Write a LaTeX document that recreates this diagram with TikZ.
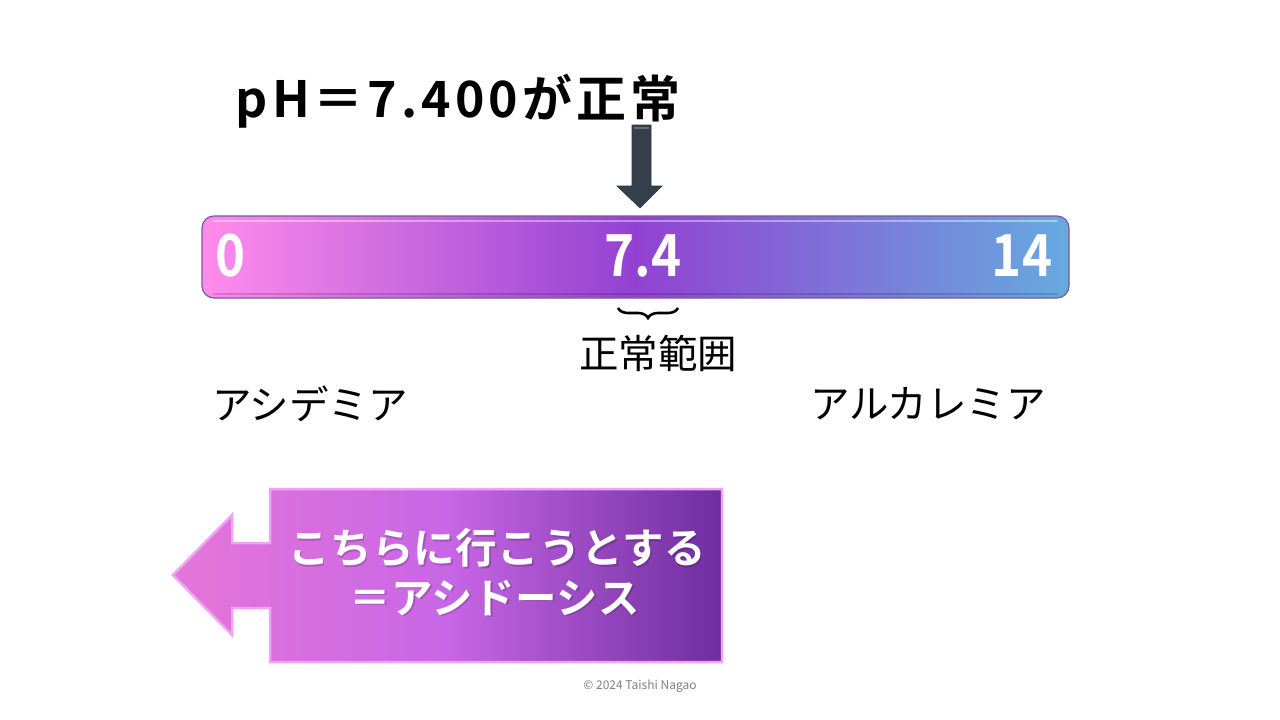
\documentclass[tikz,border=0pt]{standalone}
\usepackage{fontspec}
\newfontfamily\jp{Noto Sans CJK JP}[BoldFont={Noto Sans CJK JP Bold}]
\usetikzlibrary{decorations.pathreplacing,shadows}
\definecolor{barpink}{HTML}{FF8CEB}
\definecolor{barmid}{HTML}{9242D2}
\definecolor{barblue}{HTML}{66AADF}
\definecolor{barline}{HTML}{7A5A9A}
\definecolor{arrowdark}{HTML}{36404D}
\definecolor{bigL}{HTML}{E676D8}
\definecolor{bigM}{HTML}{C766E6}
\definecolor{bigR}{HTML}{6E2E9E}
\definecolor{bigedge}{HTML}{EFA2F6}
\begin{document}
\begin{tikzpicture}[x=1pt,y=-1pt,
  bartext/.style={text=white,font=\jp\bfseries\fontsize{58}{60}\selectfont,inner sep=0pt,xscale=0.88},
  lbl/.style={text=black,font=\jp\fontsize{39.5}{44}\selectfont,inner sep=0pt},
  bigtext/.style={text=white,font=\jp\bfseries\fontsize{41.5}{48}\selectfont\addfontfeature{LetterSpace=1},inner sep=0pt},
  shadowtext/.style={text=black,opacity=0.18,font=\jp\bfseries\fontsize{41.5}{48}\selectfont\addfontfeature{LetterSpace=1},inner sep=0pt}]
\useasboundingbox[fill=white] (0,0) rectangle (1280,720);

% title
\node[inner sep=0pt,font=\jp\bfseries\fontsize{50}{56}\selectfont\addfontfeature{LetterSpace=8}] (title) at (458,101) {pH＝7.400が正常};

% down arrow
\path[fill=arrowdark,draw=arrowdark!80!black,line width=0.6] (632,125) coordinate (arrtop) -- (651,125) -- (651,186) -- (662,186) -- (640,208) coordinate (arrtip) -- (617,186) -- (632,186) -- cycle;
\draw[white,opacity=0.25,line width=2] (634,128) -- (649,128);

% bar
\shade[left color=barpink,right color=barblue,middle color=barmid,rounded corners=12] (202,216) rectangle (1069,298);
\draw[barline,line width=1.2,rounded corners=12] (202,216) rectangle (1069,298);
\draw[white,opacity=0.4,line width=2,line cap=round] (214,221) -- (1057,221);
\draw[black,opacity=0.15,line width=2,line cap=round] (214,294) -- (1057,294);
\node (bar) at (635.5,257) {};

\node[bartext] (v0) at (231,256) {0};
\node[bartext] (v74) at (643,256) {7.4};
\node[bartext] (v14) at (1022,256) {14};

% brace and normal range
\draw[decorate,decoration={brace,mirror,amplitude=10},line width=2.6] (618,308) -- (678,308);
\node[lbl] (normal) at (658,353) {正常範囲};

\node[lbl] (acid) at (310,404) {アシデミア};
\node[lbl] (alk) at (928,404) {アルカレミア};

% big left arrow
\shade[left color=bigL,right color=bigR,middle color=bigM]
  (270,489) -- (722,489) -- (722,662) -- (270,662) -- (270,608) -- (232,608) -- (232,635) -- (173,575) -- (232,515) -- (232,543) -- (270,543) -- cycle;
\draw[bigedge,line width=2.5,line join=miter]
  (270,489) -- (722,489) -- (722,662) -- (270,662) -- (270,608) -- (232,608) -- (232,635) -- (173,575) -- (232,515) -- (232,543) -- (270,543) -- cycle;
\coordinate (bigtip) at (173,575);

\node[shadowtext] at (498.5,549.5) {こちらに行こうとする};
\node[shadowtext] at (496.5,599.5) {＝アシドーシス};
\node[bigtext] (line1) at (497,548) {こちらに行こうとする};
\node[bigtext] (line2) at (495,598) {＝アシドーシス};

% copyright
\node[text=black!50,font=\jp\fontsize{12}{14}\selectfont,inner sep=0pt] (copy) at (640,686) {© 2024 Taishi Nagao};
\end{tikzpicture}
\end{document}
